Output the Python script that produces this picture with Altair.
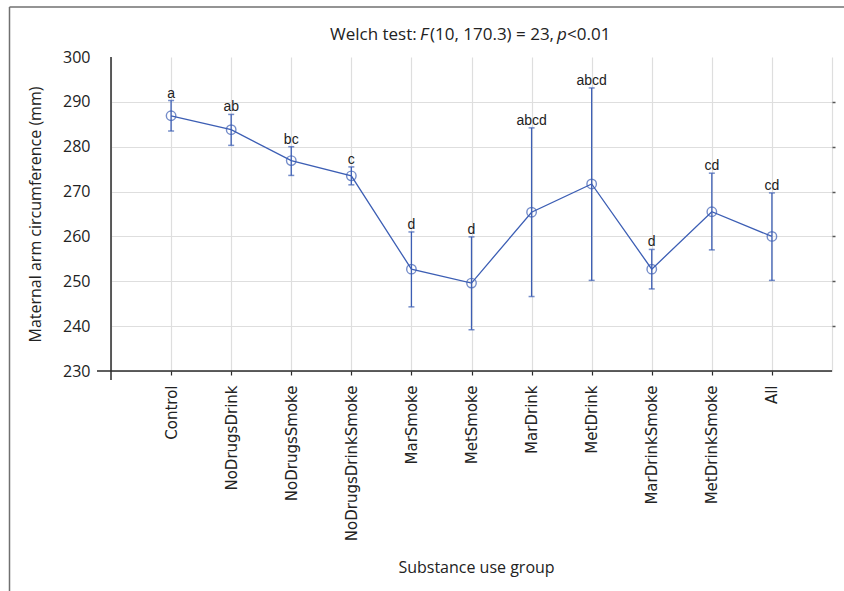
import json

import altair as alt
import pandas as pd

# Group means of maternal arm circumference (mm) with their interval limits
groups = [
    "Control", "NoDrugsDrink", "NoDrugsSmoke", "NoDrugsDrinkSmoke", "MarSmoke",
    "MetSmoke", "MarDrink", "MetDrink", "MarDrinkSmoke", "MetDrinkSmoke", "All",
]
means = [286.9, 283.8, 276.9, 273.5, 252.7, 249.6, 265.4, 271.7, 252.7, 265.5, 260.0]
lower = [283.5, 280.3, 273.6, 271.5, 244.3, 239.2, 246.6, 250.2, 248.3, 257.0, 250.2]
upper = [290.3, 287.2, 280.0, 275.5, 261.0, 259.9, 284.2, 293.1, 257.1, 274.1, 269.7]
letters = ["a", "ab", "bc", "c", "d", "d", "abcd", "abcd", "d", "cd", "cd"]

df = pd.DataFrame({
    "group": groups,
    "pos": list(range(1, len(groups) + 1)),
    "mean": means,
    "lower": lower,
    "upper": upper,
    "letter": letters,
})

W, H = 721, 314
BLUE = "#3c5eb4"
GRID = "#dedede"
AXIS = "#2a2a2a"
TEXT = "#222222"
SANS = "Open Sans"

label_lookup = json.dumps([""] + groups + [""])
edge = "datum.value == 0 || datum.value == 12"

x_enc = alt.X(
    "pos:Q",
    scale=alt.Scale(domain=[0, 12], nice=False, zero=False),
    axis=alt.Axis(
        values=list(range(0, 13)),
        labelExpr=f"{label_lookup}[datum.value]",
        labelAngle=-90,
        labelFont="DejaVu Sans",
        labelFontSize=15,
        labelColor=TEXT,
        labelPadding=10,
        tickSize=4,
        tickColor=AXIS,
        tickWidth=1.2,
        tickOpacity=alt.condition(edge, alt.value(0), alt.value(1)),
        domain=False,
        grid=True,
        gridColor=GRID,
        gridWidth=1.2,
        title="Substance use group",
        titleFont=SANS,
        titleFontSize=16,
        titleFontWeight="normal",
        titleColor=TEXT,
        titleX=365,
        titleY=196,
        titleAlign="center",
        titleBaseline="middle",
    ),
)

y_scale = alt.Scale(domain=[230, 300], nice=False, zero=False)

y_left = alt.Y(
    "mean:Q",
    scale=y_scale,
    axis=alt.Axis(
        values=list(range(230, 301, 10)),
        labelFont=SANS,
        labelFontSize=16,
        labelColor=TEXT,
        labelPadding=21,
        ticks=False,
        domain=False,
        grid=True,
        gridColor=alt.condition("datum.value == 300", alt.value("transparent"), alt.value(GRID)),
        gridWidth=1.2,
        title="Maternal arm circumference (mm)",
        titleFont=SANS,
        titleFontSize=16,
        titleFontWeight="normal",
        titleColor=TEXT,
        titleAngle=-90,
        titleX=-76,
        titleY=157,
        titleAlign="center",
        titleBaseline="middle",
    ),
)

y_right = alt.Y(
    "mean:Q",
    scale=y_scale,
    axis=alt.Axis(
        orient="right",
        values=list(range(240, 291, 10)),
        labels=False,
        domain=False,
        grid=False,
        tickSize=3,
        tickColor="#555555",
        tickWidth=1.5,
        title=None,
    ),
)

base = alt.Chart(df)

line = base.mark_line(color=BLUE, strokeWidth=1.3).encode(x=x_enc, y=y_left)

points = base.mark_point(
    shape="circle", filled=False, color=BLUE, size=90, strokeWidth=1.4
).encode(x=x_enc, y=y_right)

bars = base.mark_rule(color=BLUE, strokeWidth=1.3).encode(
    x=x_enc, y=alt.Y("lower:Q", scale=y_scale, axis=None), y2="upper:Q"
)
caps_hi = base.mark_tick(orient="horizontal", color=BLUE, size=6, thickness=1.5).encode(
    x=x_enc, y=alt.Y("upper:Q", scale=y_scale, axis=None)
)
caps_lo = base.mark_tick(orient="horizontal", color=BLUE, size=6, thickness=1.5).encode(
    x=x_enc, y=alt.Y("lower:Q", scale=y_scale, axis=None)
)

letter_text = base.mark_text(
    font="Liberation Sans", fontSize=14, color=TEXT, baseline="alphabetic", dy=-3
).encode(x=x_enc, y=alt.Y("upper:Q", scale=y_scale, axis=None), text="letter:N")

one = alt.Data(values=[{}])

# Crossing axis lines that overshoot the plot corner
y_axis_line = alt.Chart(one).mark_rule(color=AXIS, strokeWidth=1.5).encode(
    x=alt.value(0), y=alt.value(0), y2=alt.value(H + 9)
)
x_axis_line = alt.Chart(one).mark_rule(color=AXIS, strokeWidth=1.5).encode(
    x=alt.value(-14), x2=alt.value(W), y=alt.value(H)
)

# Outer figure frame (left and top edges)
frame_left = alt.Chart(one).mark_rule(color="#707070", strokeWidth=1.5).encode(
    x=alt.value(-101.5), y=alt.value(-50), y2=alt.value(534)
)
frame_top = alt.Chart(one).mark_rule(color="#707070", strokeWidth=1.5).encode(
    x=alt.value(-101.5), x2=alt.value(733), y=alt.value(-50)
)


def title_part(text, x, italic=False):
    return alt.Chart(one).mark_text(
        text=text,
        font=SANS,
        fontSize=17,
        fontStyle="italic" if italic else "normal",
        color=TEXT,
        align="left",
        baseline="alphabetic",
    ).encode(x=alt.value(x), y=alt.value(-17))


title_parts = [
    title_part("Welch test:", 219),
    title_part("F", 309, italic=True),
    title_part("(10, 170.3) = 23,", 319),
    title_part("p", 446, italic=True),
    title_part("<0.01", 456),
]

chart = alt.layer(
    line, points, bars, caps_hi, caps_lo, letter_text,
    y_axis_line, x_axis_line, frame_left, frame_top, *title_parts,
).resolve_axis(y="independent").properties(
    width=W,
    height=H,
    autosize=alt.AutoSizeParams(type="none"),
    padding={"left": 111, "top": 57, "right": 12, "bottom": 220},
    background="white",
).configure_view(stroke=None)

chart.save("out.html", embed_options={"renderer": "svg", "actions": False})
